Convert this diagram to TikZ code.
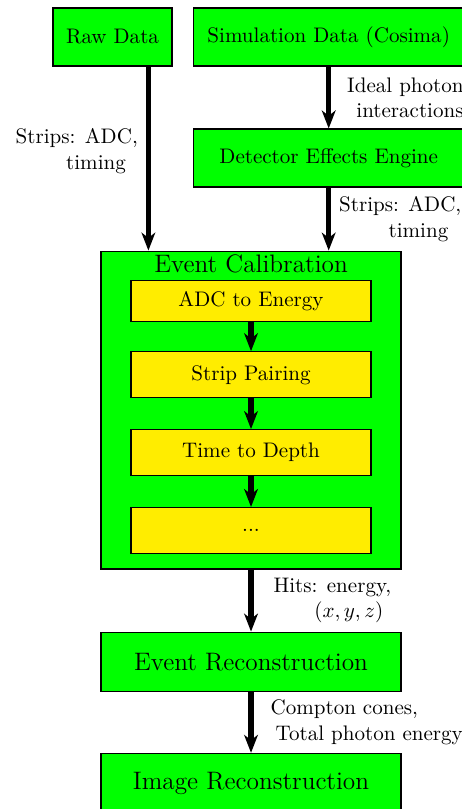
\documentclass[tikz,border=0pt]{standalone}
\usetikzlibrary{positioning,arrows.meta}

\definecolor{stageGreen}{RGB}{0,255,0}
\definecolor{stepYellow}{RGB}{255,237,0}

\tikzset{
    stage/.style={draw,line width=0.6pt,fill=stageGreen,minimum width=142.5pt,minimum height=28pt,inner sep=0pt},
    source/.style={draw,line width=0.6pt,fill=stageGreen,minimum height=27.5pt,inner sep=0pt},
    calstep/.style={draw,line width=0.6pt,fill=stepYellow,minimum width=114pt,minimum height=21.8pt,inner sep=0pt},
    flow/.style={line width=2.4pt,-{Stealth[length=8.5pt,width=6.5pt,inset=2.5pt]}},
    flowLabel/.style={inner sep=0pt}
}

\begin{document}
\begin{tikzpicture}
    \useasboundingbox (0,0) rectangle (219.45pt,-384.3pt);

    % inputs
    \node[source,minimum width=56.5pt] (raw) at (53.44pt,-17.58pt) {Raw Data};
    \node[source,minimum width=128.7pt,right=9.5pt of raw] (sim) {Simulation Data (Cosima)};
    \node[source,minimum width=128.7pt,below=29.4pt of sim] (det) {Detector Effects Engine};

    % calibration block
    \node[stage,minimum height=151pt,below=87.4pt of raw.south west,anchor=north west,xshift=22.8pt,
          label={[anchor=north,font=\large,inner sep=2pt]north:Event Calibration}] (calib) {};
    \coordinate[right=22.8pt of calib.north west] (rawIn);
    \node[calstep,below=14pt of calib.north,minimum height=19.5pt] (adc) {ADC to Energy};
    \node[calstep,below=13.7pt of adc] (pairing) {Strip Pairing};
    \node[calstep,below=14.6pt of pairing] (depth) {Time to Depth};
    \node[calstep,below=14.6pt of depth] (more) {...};

    % reconstruction
    \node[stage,font=\large,below=29.4pt of calib] (evrec) {Event Reconstruction};
    \node[stage,font=\large,below=29pt of evrec] (imrec) {Image Reconstruction};

    % arrows
    \draw[flow] (raw.south -| rawIn) -- node[flowLabel,pos=0.46,left=3.8pt,align=right] {Strips: ADC,\\ timing\hspace*{5.7pt}} (rawIn);
    \draw[flow] (sim) -- node[flowLabel,right=7.6pt,align=right] {Ideal photon\\ interactions} (det);
    \draw[flow] (det) -- node[flowLabel,right=3.8pt,align=right] {Strips: ADC,\\ timing\hspace*{6.2pt}} (det |- calib.north);

    \draw[flow] (adc) -- (pairing);
    \draw[flow] (pairing) -- (depth);
    \draw[flow] (depth) -- (more);

    \draw[flow] (calib) -- node[flowLabel,right=9.5pt,align=right] {Hits: energy,\\ $(x,y,z)$\hspace*{3.8pt}} (evrec);
    \draw[flow] (evrec) -- node[flowLabel,right=8.1pt,align=left] {Compton cones,\\ \hspace*{2.4pt}Total photon energy} (imrec);
\end{tikzpicture}
\end{document}
